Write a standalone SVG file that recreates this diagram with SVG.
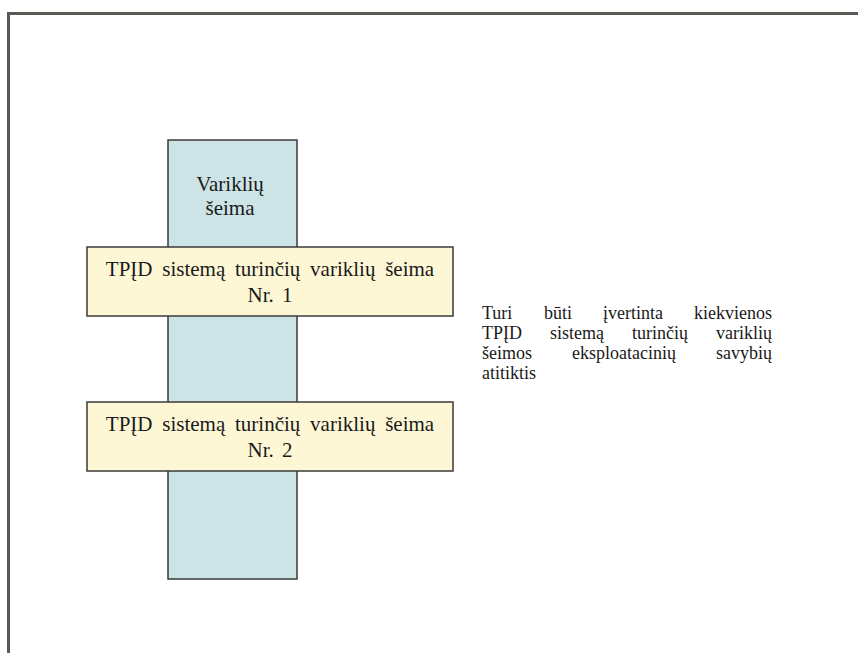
<svg xmlns="http://www.w3.org/2000/svg" width="858" height="653" viewBox="0 0 858 653">
<style>
.t{font-family:"Liberation Serif","Times New Roman",serif;font-size:21px;fill:#1a1a1a}
.n{font-family:"Liberation Serif","Times New Roman",serif;font-size:18px;fill:#1a1a1a}
.c{text-anchor:middle}
.box{stroke:#3a3a3a;stroke-width:1.5}
.frame{fill:none;stroke:#5a5a55;stroke-width:3}
</style>
<rect width="858" height="653" fill="#ffffff"/>
<path class="frame" d="M8.5,653 V13.5 H858"/>
<g id="engine-family">
<rect class="box" x="168" y="140" width="129" height="439" fill="#cce4e6"/>
<text class="t c" x="230" y="190.5">Variklių</text>
<text class="t c" x="230" y="214.5">šeima</text>
</g>
<g id="family-1">
<rect class="box" x="87" y="247" width="366" height="69" fill="#fdf7d6"/>
<text class="t c" x="270" y="276" word-spacing="4.5">TPĮD sistemą turinčių variklių šeima</text>
<text class="t c" x="270" y="301.5" word-spacing="3">Nr. 1</text>
</g>
<g id="family-2">
<rect class="box" x="87" y="402" width="366" height="69" fill="#fdf7d6"/>
<text class="t c" x="270" y="431" word-spacing="4.5">TPĮD sistemą turinčių variklių šeima</text>
<text class="t c" x="270" y="456.5" word-spacing="3">Nr. 2</text>
</g>
<g id="note">
<text class="n" y="318.5"><tspan x="482">Turi</tspan> <tspan x="544">būti</tspan> <tspan x="603">įvertinta</tspan> <tspan x="772" text-anchor="end">kiekvienos</tspan></text>
<text class="n" y="338.5"><tspan x="482">TPĮD</tspan> <tspan x="550">sistemą</tspan> <tspan x="632">turinčių</tspan> <tspan x="772" text-anchor="end">variklių</tspan></text>
<text class="n" y="358.5"><tspan x="482">šeimos</tspan> <tspan x="572">eksploatacinių</tspan> <tspan x="772" text-anchor="end">savybių</tspan></text>
<text class="n" x="482" y="378.5">atitiktis</text>
</g>
<g id="connectors"/>
</svg>
